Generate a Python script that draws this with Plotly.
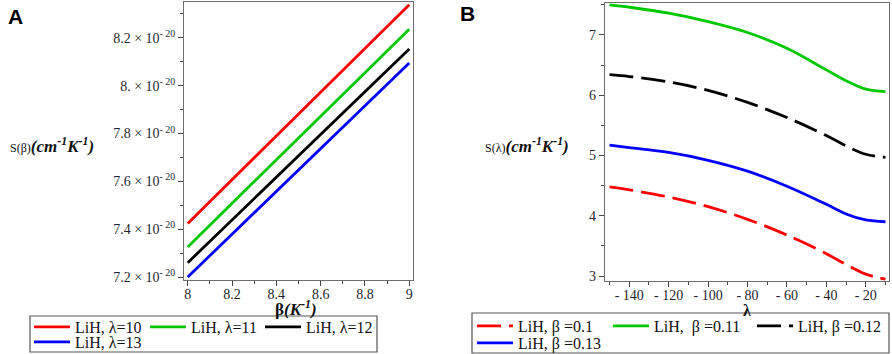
import plotly.graph_objects as go

W, H = 892, 354

# ---------------- Panel A data ----------------
beta_A = [8, 9]
lam_labels_A = ["LiH, λ=10", "LiH, λ=11", "LiH, λ=12", "LiH, λ=13"]
S_beta_l10 = [7.424e-20, 8.339e-20]
S_beta_l11 = [7.326e-20, 8.236e-20]
S_beta_l12 = [7.260e-20, 8.153e-20]
S_beta_l13 = [7.200e-20, 8.095e-20]
yticks_A = [7.2e-20, 7.4e-20, 7.6e-20, 7.8e-20, 8.0e-20, 8.2e-20]
yticktext_A = ["7.2 × 10<sup>- 20</sup>", "7.4 × 10<sup>- 20</sup>", "7.6 × 10<sup>- 20</sup>",
               "7.8 × 10<sup>- 20</sup>", "8. × 10<sup>- 20</sup>", "8.2 × 10<sup>- 20</sup>"]
xticks_A = [8, 8.2, 8.4, 8.6, 8.8, 9]
xticktext_A = ["8", "8.2", "8.4", "8.6", "8.8", "9"]

# ---------------- Panel B data ----------------
lam_B = [-150, -140, -120, -100, -80, -60, -40, -30, -20, -10]
beta_labels_B = ["LiH, β =0.1", "LiH,&nbsp; β =0.11", "LiH, β =0.12", "LiH, β =0.13"]
S_lam_b010 = [4.48, 4.43, 4.31, 4.15, 3.94, 3.68, 3.37, 3.19, 3.03, 2.95]
S_lam_b011 = [7.50, 7.46, 7.36, 7.22, 7.04, 6.78, 6.42, 6.24, 6.10, 6.06]
S_lam_b012 = [6.34, 6.31, 6.22, 6.08, 5.88, 5.63, 5.33, 5.16, 5.02, 4.97]
S_lam_b013 = [5.17, 5.13, 5.05, 4.92, 4.74, 4.49, 4.19, 4.03, 3.93, 3.90]
xticks_B = [-140, -120, -100, -80, -60, -40, -20]
xticktext_B = ["- 140", "- 120", "- 100", "- 80", "- 60", "- 40", "- 20"]
yticks_B = [3, 4, 5, 6, 7]

RED, GREEN, BLACK, BLUE = "#ff0000", "#00c800", "#000000", "#0000ff"
SERIF = "Liberation Serif"

def px_x(p):
    return p / W

def px_y(p):
    return 1 - p / H

fig = go.Figure()

# Panel A traces
a_series = [S_beta_l10, S_beta_l11, S_beta_l12, S_beta_l13]
a_colors = [RED, GREEN, BLACK, BLUE]
a_legends = ["legend", "legend2", "legend3", "legend4"]
for ys, c, name, lg in zip(a_series, a_colors, lam_labels_A, a_legends):
    fig.add_trace(go.Scatter(x=beta_A, y=ys, mode="lines", name=name,
                             line=dict(color=c, width=2.8),
                             xaxis="x", yaxis="y", legend=lg))

# Panel B traces
b_series = [S_lam_b010, S_lam_b011, S_lam_b012, S_lam_b013]
b_colors = [RED, GREEN, BLACK, BLUE]
b_dash = ["24px,8px", "solid", "24px,8px", "solid"]
b_legends = ["legend5", "legend6", "legend7", "legend8"]
for ys, c, d, name, lg in zip(b_series, b_colors, b_dash, beta_labels_B, b_legends):
    fig.add_trace(go.Scatter(x=lam_B, y=ys, mode="lines", name=name,
                             line=dict(color=c, width=2.8, dash=d, shape="spline", smoothing=1.0),
                             xaxis="x2", yaxis="y2", legend=lg))

tickfont = dict(family=SERIF, size=14, color="#1f1f2e")
axis_common = dict(showline=True, linecolor="#6e6e6e", linewidth=1.3, mirror=True,
                   ticks="outside", ticklen=5, tickwidth=1, tickcolor="#444",
                   showgrid=False, zeroline=False, tickfont=tickfont, automargin=False)

fig.update_layout(
    width=W, height=H,
    margin=dict(l=0, r=0, t=0, b=0, autoexpand=False),
    paper_bgcolor="white", plot_bgcolor="white",
    xaxis=dict(domain=[px_x(184), px_x(413)], range=[7.983, 9.017],
               tickvals=xticks_A, ticktext=xticktext_A, ticklabelstandoff=-4,
               minor=dict(ticks="outside", ticklen=3, dtick=0.1, tick0=8, tickcolor="#444"),
               anchor="y", **axis_common),
    yaxis=dict(domain=[px_y(280), px_y(2)], range=[7.1875e-20, 8.35e-20],
               tickvals=yticks_A, ticktext=yticktext_A,
               minor=dict(ticks="outside", ticklen=3,
                          tickvals=[7.3e-20, 7.5e-20, 7.7e-20, 7.9e-20, 8.1e-20, 8.3e-20],
                          tickcolor="#444"),
               anchor="x", **axis_common),
    xaxis2=dict(domain=[px_x(605), px_x(889)], range=[-152.3, -8.2],
                tickvals=xticks_B, ticktext=xticktext_B, ticklabelstandoff=-4,
                minor=dict(ticks="outside", ticklen=3, dtick=10, tick0=-150, tickcolor="#444"),
                anchor="y2", **axis_common),
    yaxis2=dict(domain=[px_y(281), px_y(3)], range=[2.917, 7.53],
                tickvals=yticks_B,
                minor=dict(ticks="outside", ticklen=3, dtick=0.5, tick0=2.5, tickcolor="#444"),
                anchor="x2", **axis_common),
    showlegend=True,
)

# Legends: one per item, placed like the reference layout
leg_font = dict(family=SERIF, size=16, color="#111")
positions = {
    "legend": (34, 327), "legend2": (150, 327), "legend3": (265, 327), "legend4": (34, 342),
    "legend5": (477, 326), "legend6": (613, 326), "legend7": (757, 326), "legend8": (477, 343),
}
for lg, (lx, ly) in positions.items():
    fig.update_layout(**{lg: dict(x=px_x(lx - 5), y=px_y(ly), xanchor="left", yanchor="middle",
                                  bgcolor="rgba(0,0,0,0)", borderwidth=0, font=leg_font,
                                  itemwidth=36, tracegroupgap=0)})

# Legend frames
for (x0, y0, x1, y1) in [(30, 316, 377, 352), (472, 313, 889, 353)]:
    fig.add_shape(type="rect", xref="paper", yref="paper",
                  x0=px_x(x0), x1=px_x(x1), y0=px_y(y1), y1=px_y(y0),
                  line=dict(color="#555", width=1.2), fillcolor="rgba(0,0,0,0)")

# Axis titles and panel labels
ann = [
    dict(x=px_x(52), y=px_y(145),
         text="<span style='font-size:12px'>S(β)</span><b><i>(cm<sup>-1</sup>K<sup>-1</sup>)</i></b>",
         font=dict(family=SERIF, size=17, color="#111")),
    dict(x=px_x(527), y=px_y(145),
         text="<span style='font-size:12px'>S(λ)</span><b><i>(cm<sup>-1</sup>K<sup>-1</sup>)</i></b>",
         font=dict(family=SERIF, size=17, color="#111")),
    dict(x=px_x(296), y=px_y(308), text="<b>β</b><b><i>(K<sup>-1</sup>)</i></b>",
         font=dict(family=SERIF, size=17, color="#111")),
    dict(x=px_x(747), y=px_y(310), text="<b>λ</b>",
         font=dict(family=SERIF, size=16, color="#111")),
    dict(x=px_x(15), y=px_y(16), text="<b>A</b>",
         font=dict(family="Liberation Sans", size=21, color="#000")),
    dict(x=px_x(468), y=px_y(14), text="<b>B</b>",
         font=dict(family="Liberation Sans", size=21, color="#000")),
]
for a in ann:
    fig.add_annotation(xref="paper", yref="paper", showarrow=False,
                       xanchor="center", yanchor="middle", **a)

# Remove the default 8px page margin so the figure fills the 892x354 window exactly.
fig.write_html("out.html",
               config={"displayModeBar": False},
               post_script="document.body.style.margin='0';document.body.style.overflow='hidden';")
